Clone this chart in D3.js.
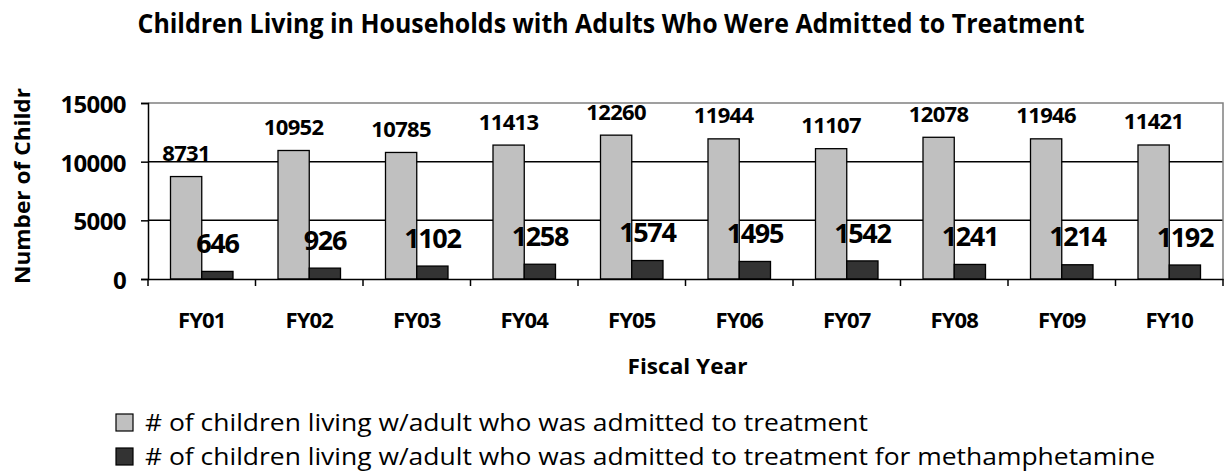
<!DOCTYPE html>
<html>
<head>
<meta charset="utf-8">
<script src="https://cdn.jsdelivr.net/npm/d3@7"></script>
<style>
  html, body { margin: 0; padding: 0; background: #fff; }
  svg { display: block; font-family: "Open Sans", "Liberation Sans", sans-serif; }
</style>
</head>
<body>
<svg id="chart" width="1225" height="473"></svg>
<script>
const categories = ["FY01","FY02","FY03","FY04","FY05","FY06","FY07","FY08","FY09","FY10"];
const allTreatment = [8731,10952,10785,11413,12260,11944,11107,12078,11946,11421];
const methTreatment = [646,926,1102,1258,1574,1495,1542,1241,1214,1192];
const seriesNames = [
  "# of children living w/adult who was admitted to treatment",
  "# of children living w/adult who was admitted to treatment for methamphetamine"
];
const seriesColors = ["#c0c0c0", "#333333"];
const yTicks = [0, 5000, 10000, 15000];
const titleText = "Children Living in Households with Adults Who Were Admitted to Treatment";
const xTitle = "Fiscal Year";
const yTitle = "Number of Childr";

(function () {
const svg = d3.select("#chart");
const pLeft = 148, pRight = 1223, pTop = 103, pBottom = 279;

const x0 = d3.scaleBand().domain(categories).range([pLeft, pRight]);
const x1 = d3.scaleBand().domain([0, 1]).range([22.5, x0.bandwidth() - 22.5]);
const y = d3.scaleLinear().domain([0, 15000]).range([pBottom, pTop]);

// Title
svg.append("text")
  .attr("x", 611).attr("y", 33)
  .attr("text-anchor", "middle")
  .attr("font-weight", "bold").attr("font-size", 26)
  .attr("textLength", 947).attr("lengthAdjust", "spacingAndGlyphs")
  .text(titleText);

// Gridlines
svg.append("g").selectAll("line").data(yTicks.filter(t => t > 0 && t < 15000)).join("line")
  .attr("x1", pLeft).attr("x2", pRight)
  .attr("y1", d => y(d)).attr("y2", d => y(d))
  .attr("stroke", "#000").attr("stroke-width", 1.5);

// plot border top/right
svg.append("path")
  .attr("d", `M${pLeft},${y(15000)}H${pRight}V${pBottom}`)
  .attr("fill", "none").attr("stroke", "#808080").attr("stroke-width", 1.5);

// Bars
const series = [allTreatment, methTreatment];
const groups = svg.append("g").selectAll("g").data(categories).join("g")
  .attr("transform", d => `translate(${x0(d)},0)`);

groups.selectAll("rect").data((d, i) => series.map((s, k) => ({k, v: s[i]}))).join("rect")
  .attr("x", d => x1(d.k))
  .attr("width", x1.bandwidth())
  .attr("y", d => y(d.v))
  .attr("height", d => pBottom - y(d.v))
  .attr("fill", d => seriesColors[d.k])
  .attr("stroke", "#000").attr("stroke-width", 1.3);

// Labels
groups.selectAll("text.val").data((d, i) => series.map((s, k) => ({k, v: s[i]}))).join("text")
  .attr("class", "val")
  .attr("x", d => x1(d.k) + x1.bandwidth() / 2)
  .attr("y", d => y(d.v) - (d.k === 0 ? 23.5 : 28))
  .attr("dy", "0.36em")
  .attr("text-anchor", "middle")
  .attr("font-weight", "bold")
  .attr("font-size", d => d.k === 0 ? 22 : 27)
  .attr("letter-spacing", d => d.k === 0 ? -0.6 : -1.4)
  .attr("fill", "#000")
  .text(d => d.v);

// Y axis
const yAxis = svg.append("g").attr("transform", `translate(${pLeft},0)`)
  .call(d3.axisLeft(y).tickValues(yTicks).tickSize(7).tickPadding(15).tickFormat(d3.format("d")));
yAxis.select(".domain").attr("stroke", "#000").attr("stroke-width", 1.5);
yAxis.selectAll(".tick line").attr("stroke", "#000").attr("stroke-width", 1.5);
yAxis.selectAll(".tick text")
  .attr("font-family", "'Open Sans', sans-serif")
  .attr("font-size", 24).attr("font-weight", "bold").attr("fill", "#000")
  .attr("letter-spacing", -0.6)
  .attr("dy", "0.4em");

// X axis
const xAxis = svg.append("g").attr("transform", `translate(0,${pBottom})`)
  .call(d3.axisBottom(x0).tickSize(0).tickPadding(33));
xAxis.select(".domain").attr("stroke", "#000").attr("stroke-width", 1.5);
xAxis.selectAll(".tick text")
  .attr("font-family", "'Open Sans', sans-serif")
  .attr("font-size", 22).attr("font-weight", "bold").attr("fill", "#000")
  .attr("letter-spacing", -0.8);
// category boundary ticks
svg.append("g").selectAll("line").data(categories.concat(["end"])).join("line")
  .attr("x1", (d, i) => i < categories.length ? x0(d) : pRight)
  .attr("x2", (d, i) => i < categories.length ? x0(d) : pRight)
  .attr("y1", pBottom).attr("y2", pBottom + 7)
  .attr("stroke", "#000").attr("stroke-width", 1.5);

// Axis titles
svg.append("text")
  .attr("x", (pLeft + pRight) / 2 + 2).attr("y", 374)
  .attr("text-anchor", "middle")
  .attr("font-weight", "bold").attr("font-size", 22)
  .attr("textLength", 120).attr("lengthAdjust", "spacingAndGlyphs")
  .text(xTitle);

svg.append("text")
  .attr("transform", "translate(30,284) rotate(-90)")
  .attr("text-anchor", "start")
  .attr("font-weight", "bold").attr("font-size", 22)
  .attr("textLength", 196).attr("lengthAdjust", "spacingAndGlyphs")
  .text(yTitle);

// Legend
const legendWidths = [723, 1010];
const leg = svg.append("g").selectAll("g").data(seriesNames).join("g")
  .attr("transform", (d, i) => `translate(116,${414 + i * 34})`);
leg.append("rect")
  .attr("width", 17).attr("height", 17)
  .attr("fill", (d, i) => seriesColors[i])
  .attr("stroke", "#000").attr("stroke-width", 1.2);
leg.append("text")
  .attr("x", 29).attr("y", 17)
  .attr("font-size", 24)
  .attr("textLength", (d, i) => legendWidths[i]).attr("lengthAdjust", "spacingAndGlyphs")
  .attr("fill", "#000")
  .text(d => d);
})();
</script>
</body>
</html>
